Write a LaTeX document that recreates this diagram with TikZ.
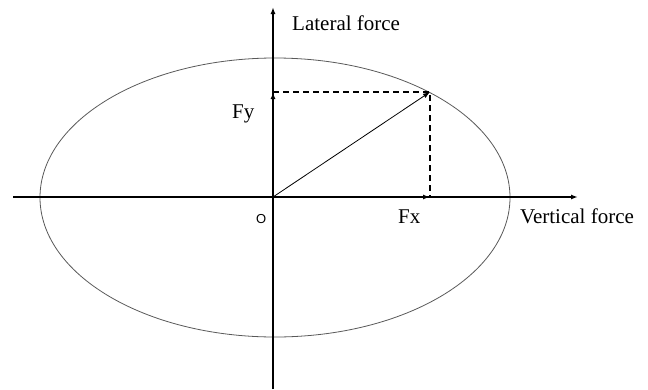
\documentclass[tikz,border=0pt]{standalone}
\usepackage{fontspec}
\setmainfont{Liberation Serif}
\newfontfamily\originfont{Liberation Sans}
\usetikzlibrary{arrows.meta,positioning,calc}

\begin{document}
\begin{tikzpicture}[
    x=1pt, y=-1pt,
    axis/.style={line width=1.4pt},
    proj/.style={line width=1.4pt, dash pattern=on 6pt off 4pt},
    lbl/.style={font=\fontsize{21}{23}\selectfont, inner sep=0pt, anchor=base west},
    >={Latex[length=7pt,width=5pt]}
  ]
  \useasboundingbox (0,0) rectangle (648,389);

  % origin and end points
  \coordinate (O)   at (273,197);
  \coordinate (xl)  at (13,197);
  \coordinate (xr)  at (578,197);
  \coordinate (yb)  at (273,389);
  \coordinate (yt)  at (273,7);
  \coordinate (P)   at (430,92);
  \coordinate (Px)  at (430,197);
  \coordinate (Py)  at (273,92);

  % friction ellipse
  \draw[gray!70!black, line width=0.8pt] (275,197.5) ellipse [x radius=235, y radius=139.5];

  % axes
  \draw[axis, ->] (xl) -- (xr);
  \draw[axis, ->] (yb) -- (yt);

  % components and resultant
  \draw[proj] (Py) -- (P) -- (Px);
  \draw[axis, ->] (O) -- (Px);
  \draw[axis, ->] (O) -- (Py);
  \draw[line width=0.8pt, ->] (O) -- (P);

  \node[lbl] (lat)  at (292,30)  {Lateral force};
  \node[lbl] (vert) at (520,223) {Vertical force};
  \node[lbl] (fy)   at (232,118) {Fy};
  \node[lbl] (fx)   at (398,223) {Fx};
  \node[inner sep=0pt, anchor=base west, font=\originfont\fontsize{13}{15}\selectfont] (orig) at (256,223) {O};
\end{tikzpicture}
\end{document}
